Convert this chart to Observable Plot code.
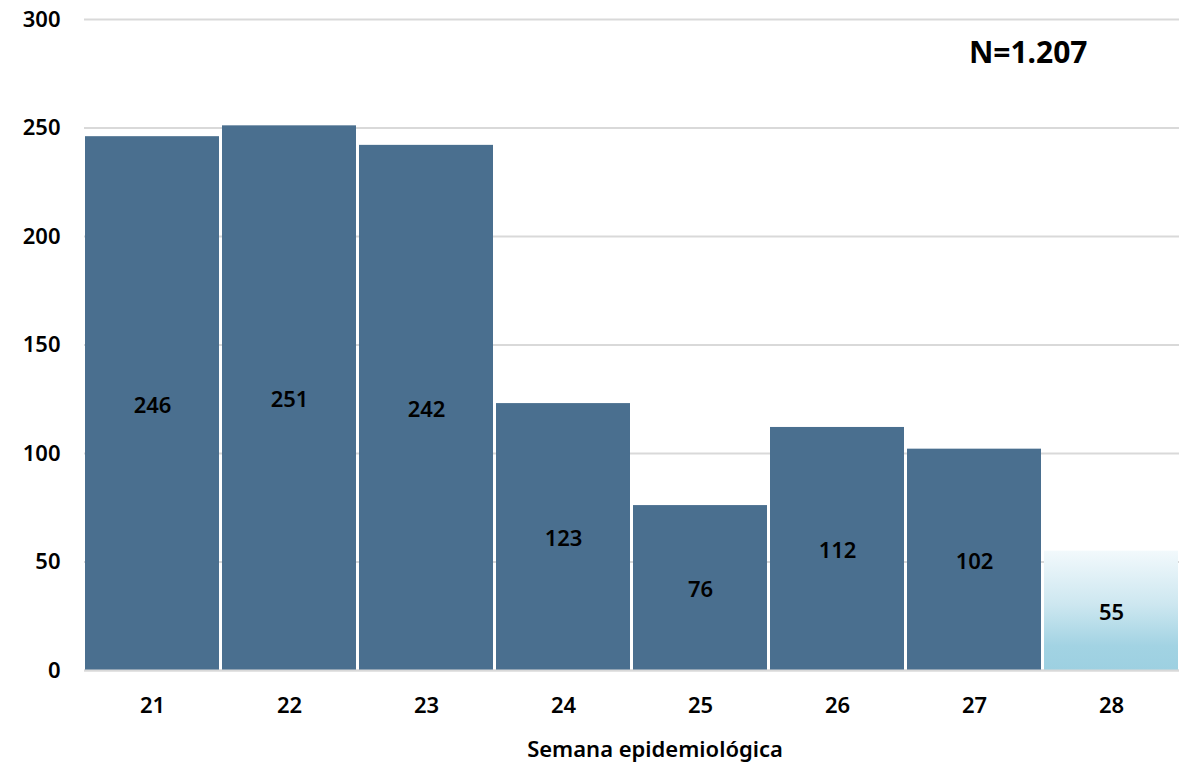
<!DOCTYPE html>
<html>
<head>
<meta charset="utf-8">
<script src="https://cdn.jsdelivr.net/npm/d3@7"></script>
<script src="https://cdn.jsdelivr.net/npm/@observablehq/plot@0.6"></script>
<style>
  html, body { margin: 0; padding: 0; background: #fff; }
  svg { font-family: "Noto Sans", "Open Sans", sans-serif; }
</style>
</head>
<body>
<div id="chart"></div>
<script>
const semanas = ["21", "22", "23", "24", "25", "26", "27", "28"];
const casos = [246, 251, 242, 123, 76, 112, 102, 55];
const parcial = [false, false, false, false, false, false, false, true];
const yTicks = [0, 50, 100, 150, 200, 250, 300];
const xLabel = "Semana epidemiológica";
const totalLabel = "N=1.207";

const data = semanas.map((s, i) => ({semana: s, casos: casos[i], parcial: parcial[i]}));

const chart = Plot.plot({
  width: 1183,
  height: 768,
  marginTop: 19,
  marginBottom: 98,
  marginLeft: 84,
  marginRight: 4,
  style: {fontSize: "22px", fontWeight: 600, color: "#000", background: "#fff"},
  x: {domain: semanas, paddingInner: 0.02, paddingOuter: 0.004, label: null},
  y: {domain: [0, 300], ticks: yTicks, label: null},
  marks: [
    Plot.gridY(yTicks, {stroke: "#d9d9d9", strokeOpacity: 1, strokeWidth: 2}),
    Plot.barY(data, {
      x: "semana", y: "casos",
      fill: d => d.parcial ? "url(#gradParcial)" : "#4a6f8f"
    }),
    Plot.ruleY([0], {stroke: "#d9d9d9", strokeWidth: 2}),
    Plot.text(data, {
      x: "semana", y: d => d.casos / 2, text: d => String(d.casos),
      fill: "#000", fontSize: 22, fontWeight: 600, dy: 2
    }),
    Plot.axisX({tickSize: 0, tickPadding: 27, fontSize: 22, fontWeight: 600}),
    Plot.axisY(yTicks, {tickSize: 0, tickPadding: 24, fontSize: 22, fontWeight: 600}),
    Plot.text([totalLabel], {
      frameAnchor: "top-right", dx: -92, dy: 22, text: d => d,
      fontSize: 30, fontWeight: 700, fill: "#000", textAnchor: "end"
    }),
    Plot.text([xLabel], {
      frameAnchor: "bottom", dx: 23, dy: 86, text: d => d,
      fontSize: 22, fontWeight: 600, fill: "#000"
    })
  ]
});

const ns = "http://www.w3.org/2000/svg";
const defs = document.createElementNS(ns, "defs");
const grad = document.createElementNS(ns, "linearGradient");
grad.setAttribute("id", "gradParcial");
grad.setAttribute("x1", "0"); grad.setAttribute("y1", "0");
grad.setAttribute("x2", "0"); grad.setAttribute("y2", "1");
[["0%", "#f2f9fc"], ["45%", "#cde7f0"], ["80%", "#a2d3e3"], ["100%", "#9dd0e1"]].forEach(([o, c]) => {
  const st = document.createElementNS(ns, "stop");
  st.setAttribute("offset", o); st.setAttribute("stop-color", c);
  grad.appendChild(st);
});
defs.appendChild(grad);
chart.insertBefore(defs, chart.firstChild);

document.getElementById("chart").appendChild(chart);
</script>
</body>
</html>
